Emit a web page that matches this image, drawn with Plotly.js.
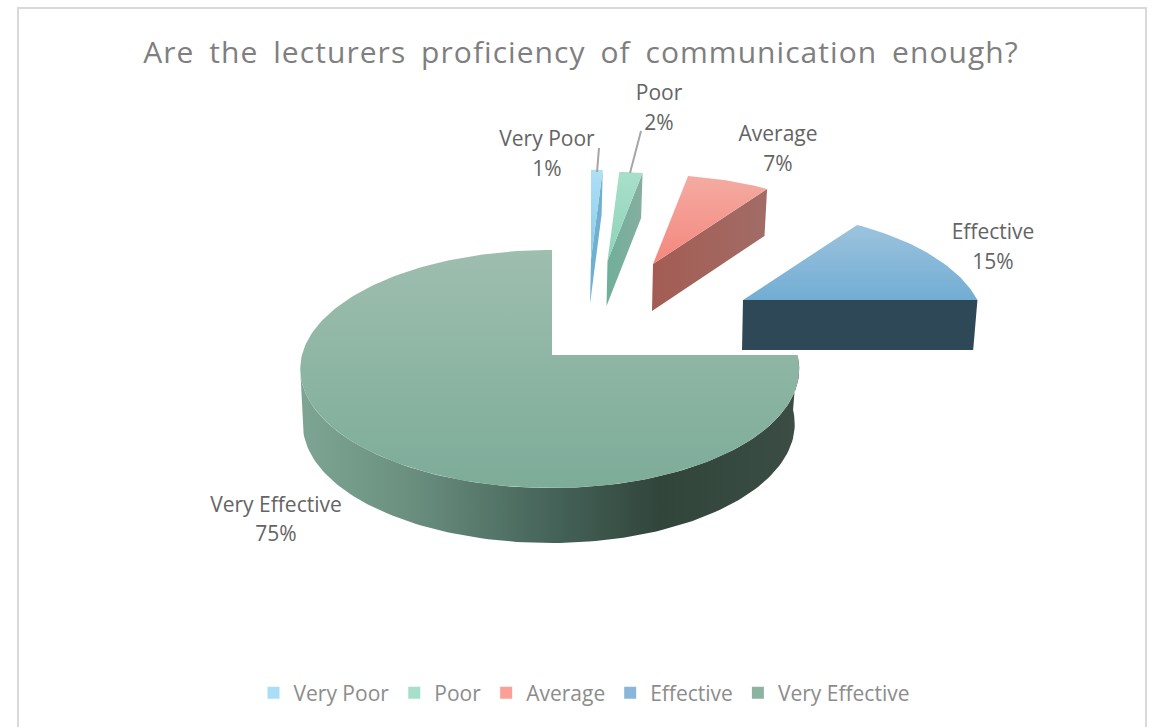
<!DOCTYPE html>
<html><head><meta charset="utf-8">
<script src="https://cdn.plot.ly/plotly-3.0.1.min.js"></script>
<style>
html,body{margin:0;padding:0;background:#fff}
.gtitle{letter-spacing:1.05px;word-spacing:6px}
</style></head>
<body><div id="chart" style="width:1154px;height:727px"></div>
<script>
// ---- data ----
const categories = ["Very Poor","Poor","Average","Effective","Very Effective"];
const percents   = [1,2,7,15,75];
const chartTitle = "Are the lecturers proficiency of communication enough?";

// ---- colours ----
const legendColors = ["#a9dff6","#a6e0ca","#fb9f97","#8ab7d9","#8cb3a2"];
const topColors = [["#aee0f5","#8cc8ea"],["#a8dfcb","#8ed3ba"],["#f4aba2","#f4877d"],["#9cc3dd","#72add4"],["#9ebeaf","#7dac99"]];
const wallColors = [["#6fb0d0","#6fb0d0"],["#70af9a","#86ae9f"],["#a35c53","#a26c66"],["#2f4858","#2f4858"],null];
const bigWallScale = [[0,"#7ea594"],[0.22,"#6a8f7f"],[0.5,"#46645a"],[0.72,"#31453b"],[1,"#3b4d44"]];

// ---- geometry (pixel-based axes) ----
const apexX = [591,607.5,653,743,552];
const apexY = [259,261,264,300,355];
const scale = [0.955,0.955,0.955,0.955,1];
const persp = [0.257,0.257,0.257,0.257,0.1176];
const depth = [45,45,47,50,55];
const rxL = 250, rxR = 245.5, ry = 117.4;

function rimPoint(i,deg){
  const a = deg*Math.PI/180, u = Math.sin(a), v = -Math.cos(a);
  const d = 1-persp[i]*v, rx = u<0?rxL:rxR;
  return [apexX[i]+scale[i]*rx*u/d, apexY[i]+scale[i]*ry*v/d];
}
function arc(i,a0,a1){
  const n = Math.max(2,Math.ceil(Math.abs(a1-a0)/1.5)), pts=[];
  for(let j=0;j<=n;j++) pts.push(rimPoint(i,a0+(a1-a0)*j/n));
  return pts;
}
function down(i,p){
  return [p[0]-0.014*(p[0]-apexX[i])-1, p[1]+depth[i]];
}
function poly(pts,fillgradient,name){
  const xs=pts.map(p=>p[0]).concat(pts[0][0]), ys=pts.map(p=>p[1]).concat(pts[0][1]);
  return {type:"scatter",mode:"lines",x:xs,y:ys,fill:"toself",fillgradient,
    line:{width:0,color:"rgba(0,0,0,0)"},showlegend:false,hoverinfo:"skip",name};
}
function vGrad(c){return {type:"vertical",colorscale:[[0,c[1]],[1,c[0]]]};}

const traces=[];
let cum=0;
const starts = percents.map(p=>{const s=cum; cum+=p*3.6; return s;});

// big slice (last category) first
const bi = categories.length-1;
const b0 = starts[bi], b1 = b0+percents[bi]*3.6;
// outer wall: from the right edge round the front to the left extreme of the rim
const wallRim = arc(bi,b0,Math.min(b1,263.2));
traces.push(poly(wallRim.concat(wallRim.slice().reverse().map(p=>down(bi,p))),
  {type:"horizontal",colorscale:bigWallScale},categories[bi]));
traces.push(poly([[apexX[bi],apexY[bi]]].concat(arc(bi,b0,b1)),vGrad(topColors[bi]),categories[bi]));

// exploded slices
for(let i=0;i<bi;i++){
  const a0=starts[i], a1=a0+percents[i]*3.6;
  const A=[apexX[i],apexY[i]], R=rimPoint(i,a1);
  const wall=[A,R,down(i,R),down(i,A)];
  traces.push(poly(wall,{type:"horizontal",colorscale:[[0,wallColors[i][0]],[1,wallColors[i][1]]]},categories[i]));
  traces.push(poly([A].concat(arc(i,a0,a1)),vGrad(topColors[i]),categories[i]));
}

// leader lines
const leadX=[[597,599],[630,641]], leadY=[[172,148],[173,131]];
leadX.forEach((lx,i)=>traces.push({type:"scatter",mode:"lines",x:lx,y:leadY[i],
  line:{color:"#a6a6a6",width:2},showlegend:false,hoverinfo:"skip"}));

// data labels: name and percent lines
const labelX=[547,659,778,993,276], nameY=[141,95,136,234,507], pctY=[171,125,166,264,536];
const labelFont={family:"Open Sans, sans-serif",size:21,color:"#646464"};
traces.push({type:"scatter",mode:"text",x:labelX,y:nameY,text:categories,textposition:"middle center",
  textfont:labelFont,showlegend:false,hoverinfo:"skip"});
traces.push({type:"scatter",mode:"text",x:labelX,y:pctY,text:percents.map(p=>p+"%"),textposition:"middle center",
  textfont:labelFont,showlegend:false,hoverinfo:"skip"});

// legend entries
categories.forEach((c,i)=>traces.push({type:"scatter",mode:"markers",x:[null],y:[null],name:c,
  marker:{symbol:"square",size:12,color:legendColors[i]},showlegend:true}));

const layout={
  width:1154,height:727,margin:{l:0,r:0,t:0,b:0},
  paper_bgcolor:"#fff",plot_bgcolor:"#fff",
  title:{text:chartTitle,x:581/1154,xanchor:"center",y:1-52/727,yanchor:"middle",
    font:{family:"Open Sans, sans-serif",size:30,color:"#7f7f7f"}},
  xaxis:{range:[0,1154],visible:false,fixedrange:true},
  yaxis:{range:[727,0],visible:false,fixedrange:true},
  showlegend:true,
  legend:{orientation:"h",x:584/1154,xanchor:"center",y:1-693/727,yanchor:"middle",
    font:{family:"Open Sans, sans-serif",size:21,color:"#8c8c8c"},itemclick:false,itemdoubleclick:false},
  shapes:[{type:"path",xref:"x",yref:"y",path:"M18,727 L18,8 L1146,8 L1146,727",
    line:{color:"#d9d9d9",width:2},layer:"below"}]
};
Plotly.newPlot("chart",traces,layout,{displayModeBar:false,staticPlot:false});
</script></body></html>
